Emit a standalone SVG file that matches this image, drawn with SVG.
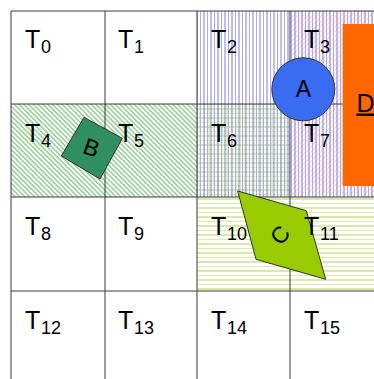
<svg xmlns="http://www.w3.org/2000/svg" width="374" height="379" viewBox="0 0 374 379">
<style>
.grid{stroke:#3a3a3a;stroke-width:1;fill:none}
.t{font-family:"Liberation Sans",Arial,sans-serif;font-size:25px;fill:#000}
.s{font-size:18px}
.lbl{font-family:"Liberation Sans",Arial,sans-serif;font-size:23px;fill:#000;text-anchor:middle}
.shape{stroke:#333;stroke-width:1}
</style>
<defs>
<pattern id="pGreenDiag" width="3.4" height="10" patternUnits="userSpaceOnUse" patternTransform="rotate(-45)">
<line x1="0.8" y1="0" x2="0.8" y2="10" stroke="#6db86d" stroke-width="1.1"/>
</pattern>
<pattern id="pBlueV" width="7" height="10" patternUnits="userSpaceOnUse">
<line x1="1" y1="0" x2="1" y2="10" stroke="#7a7af0" stroke-width="1"/>
<line x1="4.5" y1="0" x2="4.5" y2="10" stroke="#a8a8ff" stroke-width="1"/>
</pattern>
<pattern id="pOrangeDiag" width="3.4" height="10" patternUnits="userSpaceOnUse" patternTransform="rotate(45)">
<line x1="0.8" y1="0" x2="0.8" y2="10" stroke="#ffd2b4" stroke-width="1.1"/>
</pattern>
<pattern id="pGreenH" width="10" height="9" patternUnits="userSpaceOnUse">
<line x1="0" y1="1" x2="10" y2="1" stroke="#bcdc6a" stroke-width="1.2"/>
<line x1="0" y1="5.5" x2="10" y2="5.5" stroke="#dcefa8" stroke-width="1.2"/>
</pattern>
<pattern id="pGreenV" width="9" height="10" patternUnits="userSpaceOnUse">
<line x1="2" y1="0" x2="2" y2="10" stroke="#c6e286" stroke-width="1"/>
<line x1="6.5" y1="0" x2="6.5" y2="10" stroke="#dcefa8" stroke-width="1"/>
</pattern>
</defs>
<g id="regions">
<rect x="11" y="104" width="186" height="93" fill="url(#pGreenDiag)"/>
<rect x="290" y="11" width="84" height="186" fill="url(#pOrangeDiag)"/>
<rect x="197" y="104" width="93" height="93" fill="url(#pGreenV)"/>
<rect x="197" y="104" width="93" height="93" fill="url(#pGreenH)"/>
<rect x="197" y="197" width="177" height="94" fill="url(#pGreenH)"/>
<rect x="197" y="11" width="177" height="186" fill="url(#pBlueV)"/>
</g>
<g id="grid" class="grid">
<line x1="11" y1="11" x2="374" y2="11"/>
<line x1="11" y1="104" x2="374" y2="104"/>
<line x1="11" y1="197" x2="374" y2="197"/>
<line x1="11" y1="291" x2="374" y2="291"/>
<line x1="11" y1="11" x2="11" y2="379"/>
<line x1="105" y1="11" x2="105" y2="379"/>
<line x1="197" y1="11" x2="197" y2="379"/>
<line x1="290" y1="11" x2="290" y2="379"/>
</g>
<g id="D">
<rect x="342.7" y="24" width="40" height="162" fill="#ff6600"/>
<text x="356.5" y="111.5" class="t" font-size="23" text-decoration="underline">D</text>
</g>
<g id="A">
<circle cx="303.3" cy="89.3" r="31.5" fill="#3a6cf2" class="shape"/>
<text x="303.3" y="96.7" class="lbl">A</text>
</g>
<g id="B">
<polygon points="84,117.3 122.3,138.3 100,179 61.3,156" fill="#2f8f5f" class="shape"/>
<text x="0" y="8" class="lbl" transform="translate(91.5,147.5) rotate(20)">B</text>
</g>
<g id="C">
<polygon points="237.7,191 306.3,210.7 325.7,279.3 256,259.3" fill="#99cc00" class="shape"/>
<text x="0" y="8" class="lbl" transform="translate(280,235) rotate(-50)">C</text>
</g>
<g id="labels">
<text x="25" y="47.5" class="t">T<tspan class="s" dx="0.8" dy="5">0</tspan></text>
<text x="118" y="47.5" class="t">T<tspan class="s" dx="0.8" dy="5">1</tspan></text>
<text x="211" y="47.5" class="t">T<tspan class="s" dx="0.8" dy="5">2</tspan></text>
<text x="304" y="47.5" class="t">T<tspan class="s" dx="0.8" dy="5">3</tspan></text>
<text x="25" y="141.5" class="t">T<tspan class="s" dx="0.8" dy="5">4</tspan></text>
<text x="118" y="141.5" class="t">T<tspan class="s" dx="0.8" dy="5">5</tspan></text>
<text x="211" y="141.5" class="t">T<tspan class="s" dx="0.8" dy="5">6</tspan></text>
<text x="304" y="141.5" class="t">T<tspan class="s" dx="0.8" dy="5">7</tspan></text>
<text x="25" y="235" class="t">T<tspan class="s" dx="0.8" dy="5">8</tspan></text>
<text x="118" y="235" class="t">T<tspan class="s" dx="0.8" dy="5">9</tspan></text>
<text x="211" y="235" class="t">T<tspan class="s" dx="0.8" dy="5">10</tspan></text>
<text x="304" y="235" class="t">T<tspan class="s" dx="0.8" dy="5">11</tspan></text>
<text x="25" y="328.5" class="t">T<tspan class="s" dx="0.8" dy="5">12</tspan></text>
<text x="118" y="328.5" class="t">T<tspan class="s" dx="0.8" dy="5">13</tspan></text>
<text x="211" y="328.5" class="t">T<tspan class="s" dx="0.8" dy="5">14</tspan></text>
<text x="304" y="328.5" class="t">T<tspan class="s" dx="0.8" dy="5">15</tspan></text>
</g>
</svg>
